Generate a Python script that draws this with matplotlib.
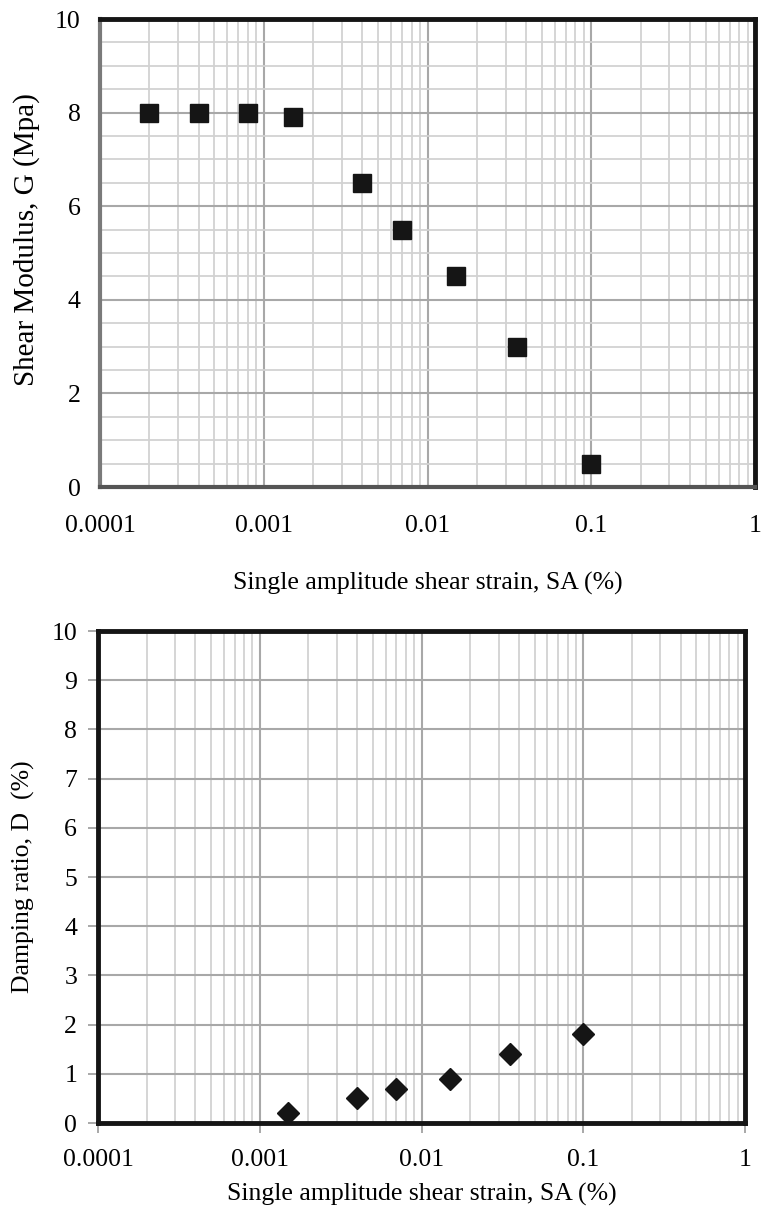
import matplotlib
matplotlib.use("Agg")
import matplotlib.pyplot as plt
import numpy as np
from matplotlib.ticker import LogLocator, FixedLocator, FixedFormatter, MultipleLocator, NullFormatter

plt.rcParams['font.family'] = ['Liberation Serif', 'DejaVu Serif']

# Data
strain_G = [0.0002, 0.0004, 0.0008, 0.0015, 0.004, 0.007, 0.015, 0.035, 0.1]
G_mpa = [8.0, 8.0, 8.0, 7.9, 6.5, 5.5, 4.5, 3.0, 0.5]
strain_D = [0.0015, 0.004, 0.007, 0.015, 0.035, 0.1]
D_pct = [0.2, 0.5, 0.7, 0.9, 1.4, 1.8]
xtick_vals = [0.0001, 0.001, 0.01, 0.1, 1]
xtick_labels = ['0.0001', '0.001', '0.01', '0.1', '1']

W, H = 763, 1210
fig = plt.figure(figsize=(W/100, H/100), dpi=100)

def ax_rect(l, t, r, b):
    return [l/W, 1 - b/H, (r-l)/W, (b-t)/H]

fs = 18.5
minor_c = '#d2d2d2'
major_c = '#a8a8a8'

def setup_x(ax, labelpad):
    ax.set_xscale('log')
    ax.set_xlim(0.0001, 1)
    ax.xaxis.set_major_locator(FixedLocator(xtick_vals))
    ax.xaxis.set_major_formatter(FixedFormatter(xtick_labels))
    ax.xaxis.set_minor_locator(LogLocator(base=10, subs=np.arange(2, 10)))
    ax.xaxis.set_minor_formatter(NullFormatter())
    ax.grid(which='minor', axis='x', color=minor_c, lw=1.3, zorder=0)
    ax.grid(which='major', axis='x', color=major_c, lw=1.5, zorder=0)
    ax.set_xlabel('Single amplitude shear strain, SA (%)', fontsize=fs, labelpad=labelpad)
    ax.tick_params(axis='both', labelsize=fs)
    ax.set_axisbelow(True)

# Top chart
ax1 = fig.add_axes(ax_rect(100, 19, 755, 487))
setup_x(ax1, 25)
ax1.set_ylim(0, 10)
ax1.yaxis.set_major_locator(MultipleLocator(2))
ax1.yaxis.set_minor_locator(MultipleLocator(0.5))
ax1.grid(which='minor', axis='y', color=minor_c, lw=1.3)
ax1.grid(which='major', axis='y', color=major_c, lw=1.5)
ax1.tick_params(axis='y', which='both', length=0, pad=14)
ax1.tick_params(axis='x', which='both', length=0, pad=20)
ax1.plot(strain_G, G_mpa, linestyle='none', marker='s', markersize=12.5,
         color='#151515', zorder=3, clip_on=False)
ax1.set_ylabel('Shear Modulus, G (Mpa)', fontsize=21)
ax1.yaxis.set_label_coords(-0.092, 0.528)
for s in ['top', 'right']:
    ax1.spines[s].set_linewidth(3.5)
    ax1.spines[s].set_color('#151515')
ax1.spines['left'].set_linewidth(3)
ax1.spines['left'].set_color('#7a7a7a')
ax1.spines['bottom'].set_linewidth(3)
ax1.spines['bottom'].set_color('#555555')

# Bottom chart
ax2 = fig.add_axes(ax_rect(98, 631, 745, 1123))
setup_x(ax2, 8)
ax2.set_ylim(0, 10)
ax2.yaxis.set_major_locator(MultipleLocator(1))
ax2.grid(which='major', axis='y', color=major_c, lw=1.5)
ax2.tick_params(which='major', length=7, width=1.2, color='#999999', direction='out')
ax2.tick_params(axis='x', which='major', pad=12)
ax2.tick_params(axis='y', which='major', pad=8)
ax2.tick_params(which='minor', length=0)
ax2.plot(strain_D, D_pct, linestyle='none', marker='D', markersize=11,
         color='#151515', zorder=3, clip_on=False)
ax2.set_ylabel('Damping ratio, D  (%)', fontsize=fs, labelpad=12)
for s in ['top', 'right', 'left', 'bottom']:
    ax2.spines[s].set_linewidth(3.5)
    ax2.spines[s].set_color('#151515')

fig.savefig('out.png', dpi=100)
